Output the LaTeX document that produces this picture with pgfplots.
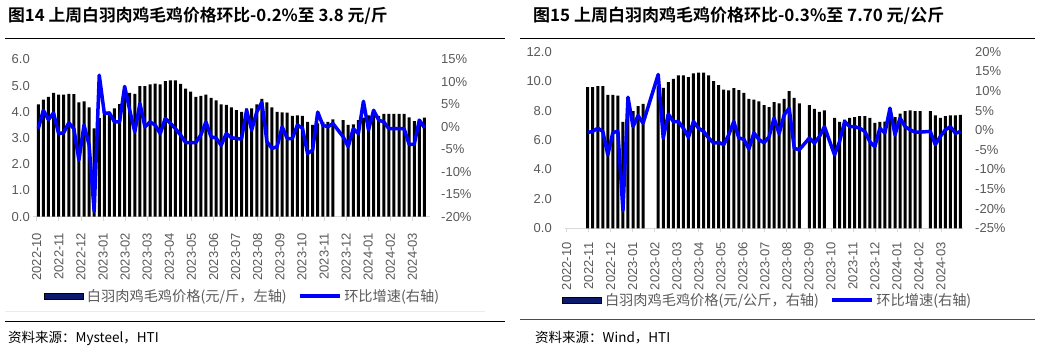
\documentclass[border=0pt]{standalone}
\usepackage{fontspec}
\usepackage{pgfplots}
\pgfplotsset{compat=1.18}
\usepackage{pgfplotstable}
\setmainfont{Liberation Sans}
\newfontfamily\cjk{Noto Sans CJK SC}
\newfontfamily\cjkb{Noto Sans CJK SC Bold}
\definecolor{tickgray}{HTML}{595959}
\definecolor{axgray}{HTML}{D9D9D9}
\definecolor{navy}{HTML}{0A1A6E}
\definecolor{lineblue}{HTML}{0000FF}

\pgfplotstableread{
i v
0 4.29
1 4.47
2 4.57
3 4.73
4 4.66
5 4.66
6 4.69
7 4.68
8 4.36
9 4.40
10 4.17
11 3.37
12 3.76
13 4.00
14 4.00
15 4.13
16 4.30
17 4.76
18 4.73
19 4.69
20 4.98
21 4.98
22 5.05
23 5.08
24 5.05
25 5.17
26 5.20
27 5.20
28 5.07
29 4.89
30 4.77
31 4.57
32 4.61
33 4.66
34 4.54
35 4.44
36 4.29
37 4.27
38 4.17
39 4.07
40 4.00
41 4.13
42 4.13
43 4.29
44 4.50
45 4.36
46 4.17
47 4.00
48 3.98
49 3.97
50 3.85
51 3.87
52 3.85
53 3.62
54 3.50
55 3.56
56 3.62
57 3.62
58 3.71
60 3.69
61 3.50
62 3.52
63 3.69
64 3.78
65 3.87
66 3.87
67 3.85
68 3.92
69 3.92
70 3.92
71 3.92
72 3.92
73 3.79
74 3.65
75 3.72
76 3.78
}\leftbars

\pgfplotstableread{
i v
0 -0.4
1 3.7
2 1.6
3 3.1
4 -1.5
5 -1.3
6 0.9
7 -0.4
8 -7.4
9 0.4
10 -4.0
11 -18.8
12 11.5
13 3.0
14 3.1
15 1.1
16 1.1
17 9.0
18 3.7
19 -1.1
20 5.2
21 0.0
22 1.1
23 0.4
24 -1.5
25 1.9
26 0.8
27 -0.4
28 -1.8
29 -3.5
30 -3.5
31 -3.5
32 -1.8
33 1.1
34 -2.2
35 -2.5
36 -4.1
37 -1.5
38 -2.4
39 -2.6
40 -2.7
41 3.7
42 -0.7
43 3.3
44 5.5
45 -3.3
46 -4.8
47 -4.4
48 0.0
49 -2.6
50 -2.6
51 0.4
52 -0.3
53 -5.9
54 -5.2
55 3.3
56 0.4
57 0.0
58 0.75
60 -2.2
61 -4.4
62 -0.4
63 -1.5
64 5.7
65 -0.7
66 3.7
67 1.5
68 1.1
69 -0.4
70 -0.4
71 -0.4
72 -0.4
73 -3.9
74 -3.9
75 1.5
76 -0.2
}\leftline

\pgfplotstableread{
j v
0 9.59
1 9.59
2 9.66
3 9.66
4 9.07
5 9.07
6 9.02
7 7.23
8 7.84
9 7.96
10 8.30
11 8.46
14 9.70
15 9.55
16 9.93
17 10.16
18 10.39
19 10.39
20 10.27
21 10.53
22 10.57
23 10.57
24 10.39
25 10.00
26 9.73
27 9.43
28 9.37
29 9.52
30 9.39
31 9.20
32 8.80
33 8.75
34 8.62
35 8.37
36 8.23
37 8.57
38 8.48
39 8.80
40 9.32
41 8.87
42 8.48
44 8.37
45 8.12
46 7.91
47 8.02
49 7.50
50 7.23
51 7.39
52 7.50
53 7.55
54 7.62
55 7.62
56 7.50
57 7.16
58 7.23
59 7.25
60 7.65
61 7.55
62 7.80
63 7.96
64 8.02
65 7.96
66 7.96
68 7.96
69 7.68
70 7.50
71 7.62
72 7.68
73 7.68
74 7.70
}\rightbars

\pgfplotstableread{
j v
0 -0.6
1 -0.3
2 0.5
3 -0.3
4 -6.3
5 -0.6
6 -0.3
7 -20.5
8 8.4
9 0.9
10 3.7
11 1.8
14 14.2
15 -2.0
16 4.1
17 2.2
18 2.2
19 0.5
20 -1.8
21 2.2
22 0.5
23 -0.3
24 -2.0
25 -3.3
26 -3.1
27 -3.7
28 -1.2
29 2.2
30 -2.0
31 -2.3
32 -4.8
33 -0.7
34 -2.4
35 -3.2
36 -1.7
37 3.1
38 -0.9
39 3.9
40 5.6
41 -4.6
42 -5.0
44 -2.0
45 -3.3
46 -1.6
47 0.9
49 -6.3
50 -2.9
51 2.2
52 0.9
53 0.9
54 0.5
55 -0.3
56 -2.9
57 -4.2
58 0.5
59 -0.7
60 5.6
61 -1.2
62 3.1
63 0.9
64 0.1
65 -0.5
66 -0.5
68 -0.3
69 -3.7
70 -1.6
71 0.1
72 0.9
73 -0.8
74 -0.3
}\rightline

\pgfplotsset{
  base/.style={
    scale only axis,
    axis x line*=bottom,
    x axis line style={axgray, line width=1pt},
    xtick align=outside,
    major tick length=4pt,
    xtick style={axgray, line width=0.8pt},
    ytick style={draw=none},
    tick label style={font=\fontsize{13}{13}\selectfont, text=tickgray},
  },
  second/.style={
    scale only axis,
    axis x line=none,
    axis y line*=right,
    y axis line style={draw=none},
    ytick style={draw=none},
    tick label style={font=\fontsize{13}{13}\selectfont, text=tickgray},
  },
  leg/.style={
    legend style={draw=none, fill=none, legend columns=2,
      text=tickgray,
      inner sep=0pt,
      font=\cjk\fontsize{14.2}{15}\selectfont,
      /tikz/every even column/.append style={column sep=8pt},
      nodes={inner xsep=3pt, inner ysep=1pt}},
    legend cell align=left,
  },
}

\begin{document}
\begin{tikzpicture}[x=1pt,y=1pt]
\path[use as bounding box] (0,0) rectangle (1038,350);

% ---------- Left panel ----------
\node[anchor=west, inner sep=0pt] at (8,334) {\cjkb\fontsize{16.8}{17}\selectfont 图14 上周白羽肉鸡毛鸡价格环比-0.2\%至 3.8 元/斤};
\draw[black, line width=1pt] (5,311.7) -- (505,311.7);

\begin{axis}[base,
  at={(33pt,133.3pt)}, anchor=south west,
  width=397pt, height=157.2pt,
  xmin=-1.04, xmax=77.1, ymin=0, ymax=6,
  axis y line*=left, y axis line style={draw=none},
  ytick={0,1,2,3,4,5,6},
  yticklabels={0.0,1.0,2.0,3.0,4.0,5.0,6.0},
  yticklabel style={anchor=east, inner sep=0pt, xshift=-3pt},
  xticklabel style={yshift=-12pt, rotate=90, anchor=east, inner sep=0pt},
  xtick={-0.3,4.05,8.4,12.75,17.1,21.45,25.8,30.15,34.5,38.85,43.2,47.55,51.9,56.25,60.6,64.95,69.3,73.65},
  xticklabels={2022-10,2022-11,2022-12,2023-01,2023-02,2023-03,2023-04,2023-05,2023-06,2023-07,2023-08,2023-09,2023-10,2023-11,2023-12,2024-01,2024-02,2024-03},
]
\addplot[ybar, bar width=3pt, fill=black, draw=none] table[x=i, y=v] {\leftbars};
\end{axis}

\begin{axis}[second, leg,
  at={(33pt,133.3pt)}, anchor=south west,
  width=397pt, height=157.2pt,
  xmin=-1.04, xmax=77.1, ymin=-20, ymax=15,
  ytick={-20,-15,-10,-5,0,5,10,15},
  yticklabels={-20\%,-15\%,-10\%,-5\%,0\%,5\%,10\%,15\%},
  yticklabel style={anchor=west, inner sep=0pt, xshift=11pt},
  legend style={at={(axis description cs:0.0277,-0.5045)}, anchor=west},
]
\addlegendimage{legend image code/.code={\draw[fill=navy, draw=black, line width=0.8pt] (0pt,-3pt) rectangle (39pt,3pt);}}
\addlegendentry{白羽肉鸡毛鸡价格(元/斤，左轴)}
\addplot[lineblue, line width=3.5pt, line join=round, no marks,
  legend image code/.code={\draw[lineblue, line width=3.5pt] (0pt,0pt) -- (40pt,0pt);}]
  table[x=i, y=v] {\leftline};
\addlegendentry{环比增速(右轴)}
\end{axis}

\draw[gray!15, line width=0.6pt] (5,39) -- (485,39);
\draw[black, line width=1pt] (5,28.3) -- (505,28.3);
\node[anchor=west, inner sep=0pt] at (8,12) {\cjk\fontsize{13.5}{14}\selectfont 资料来源：Mysteel，HTI};

% ---------- Right panel ----------
\node[anchor=west, inner sep=0pt] at (533,334) {\cjkb\fontsize{17}{17}\selectfont 图15 上周白羽肉鸡毛鸡价格环比-0.3\%至 7.70 元/公斤};
\draw[black, line width=1pt] (520,311.5) -- (1035,311.5);

\begin{axis}[base,
  at={(565pt,121.7pt)}, anchor=south west,
  width=397.5pt, height=176.6pt,
  xmin=-4.5, xmax=74.4, ymin=0, ymax=12,
  axis y line*=left, y axis line style={draw=none},
  ytick={0,2,4,6,8,10,12},
  yticklabels={0.0,2.0,4.0,6.0,8.0,10.0,12.0},
  yticklabel style={anchor=east, inner sep=0pt, xshift=-13pt},
  xticklabel style={yshift=-10pt, rotate=90, anchor=east, inner sep=0pt},
  xtick={-4.16,0.21,4.58,8.95,13.32,17.69,22.06,26.43,30.8,35.17,39.54,43.91,48.28,52.65,57.02,61.39,65.76,70.13},
  xticklabels={2022-10,2022-11,2022-12,2023-01,2023-02,2023-03,2023-04,2023-05,2023-06,2023-07,2023-08,2023-09,2023-10,2023-11,2023-12,2024-01,2024-02,2024-03},
]
\addplot[ybar, bar width=3pt, fill=black, draw=none] table[x=j, y=v] {\rightbars};
\end{axis}

\begin{axis}[second, leg,
  at={(565pt,121.7pt)}, anchor=south west,
  width=397.5pt, height=176.6pt,
  xmin=-4.5, xmax=74.4, ymin=-25, ymax=20,
  ytick={-25,-20,-15,-10,-5,0,5,10,15,20},
  yticklabels={-25\%,-20\%,-15\%,-10\%,-5\%,0\%,5\%,10\%,15\%,20\%},
  yticklabel style={anchor=west, inner sep=0pt, xshift=12.5pt},
  legend style={at={(axis description cs:-0.0075,-0.406)}, anchor=west},
]
\addlegendimage{legend image code/.code={\draw[fill=navy, draw=black, line width=0.8pt] (0pt,-3pt) rectangle (39pt,3pt);}}
\addlegendentry{白羽肉鸡毛鸡价格(元/公斤，右轴)}
\addplot[lineblue, line width=3.5pt, line join=round, no marks,
  legend image code/.code={\draw[lineblue, line width=3.5pt] (0pt,0pt) -- (40pt,0pt);}]
  table[x=j, y=v] {\rightline};
\addlegendentry{环比增速(右轴)}
\end{axis}

\draw[black!70, line width=1pt] (520,30) -- (1035,30);
\node[anchor=west, inner sep=0pt] at (535,12) {\cjk\fontsize{13.5}{14}\selectfont 资料来源：Wind，HTI};

\end{tikzpicture}
\end{document}
